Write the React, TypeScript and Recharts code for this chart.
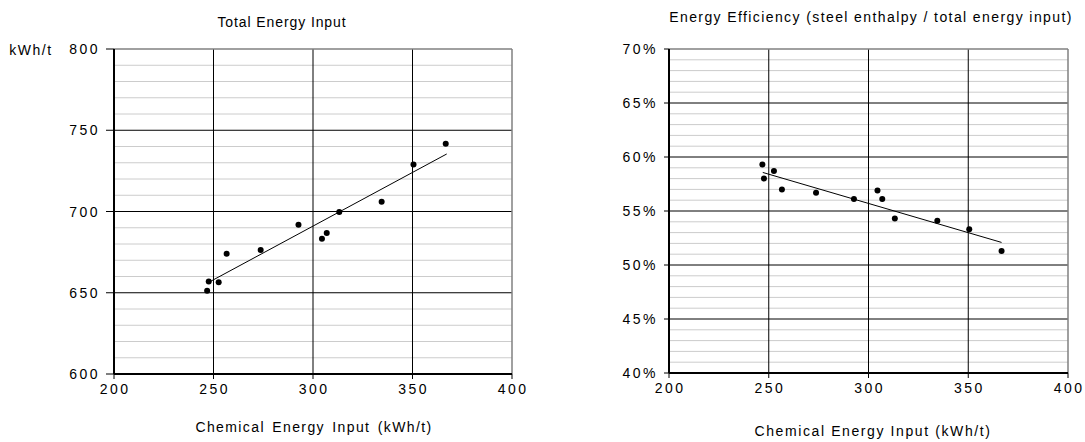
import React from 'react';
import { ScatterChart, Scatter, XAxis, YAxis, CartesianGrid } from 'recharts';

// Chemical energy input per heat (kWh/t), shared by both panels
const chemInput = [246.8, 247.6, 252.6, 256.6, 273.7, 292.7, 304.5, 306.9, 313.2, 334.5, 350.5, 366.7];
// Total energy input (kWh/t)
const totalInput = [651.3, 657, 656.4, 674, 676.3, 691.9, 683.3, 686.8, 699.7, 706, 729, 741.7];
// Energy efficiency (%)
const efficiency = [59.3, 58.0, 58.7, 57.0, 56.7, 56.1, 56.9, 56.1, 54.3, 54.1, 53.3, 51.3];

// Linear trend line end points
const totalTrendX = [248.2, 367.2];
const totalTrendY = [656.8, 735.4];
const effTrendX = [247, 366.7];
const effTrendY = [58.57, 52.09];

const xTicks = [200, 250, 300, 350, 400];
const xMajor = [250, 300, 350];
const totalTicks = [600, 650, 700, 750, 800];
const totalMajor = [650, 700, 750];
const totalMinor = [610, 620, 630, 640, 660, 670, 680, 690, 710, 720, 730, 740, 760, 770, 780, 790];
const effTicks = [40, 45, 50, 55, 60, 65, 70];
const effMajor = [45, 50, 55, 60, 65];
const effMinor = [41, 42, 43, 44, 46, 47, 48, 49, 51, 52, 53, 54, 56, 57, 58, 59, 61, 62, 63, 64, 66, 67, 68, 69];

const FONT = '"Liberation Sans", Arial, sans-serif';

const totalPoints = chemInput.map((x, i) => ({ x, y: totalInput[i] }));
const effPoints = chemInput.map((x, i) => ({ x, y: efficiency[i] }));
const totalTrend = totalTrendX.map((x, i) => ({ x, y: totalTrendY[i] }));
const effTrend = effTrendX.map((x, i) => ({ x, y: effTrendY[i] }));

const Dot = (p: any) => <circle cx={p.cx} cy={p.cy} r={3} fill="#000" />;
const NoDot = () => <g />;

// Tick labels drawn as plain SVG text so the letter spacing is applied reliably
const XTick = (p: any) => (
  <text
    x={p.x + 1.2}
    y={p.y + 6}
    textAnchor="middle"
    fontSize={14}
    fontFamily={FONT}
    fill="#000"
    style={{ letterSpacing: '2.5px' }}
  >
    {p.payload.value}
  </text>
);

const makeYTick = (suffix: string) => (p: any) => (
  <text
    x={p.x + 1}
    y={p.y + 5}
    textAnchor="end"
    fontSize={14}
    fontFamily={FONT}
    fill="#000"
    style={{ letterSpacing: '2.5px' }}
  >
    {`${p.payload.value}${suffix}`}
  </text>
);
const TotalYTick = makeYTick('');
const EffYTick = makeYTick('%');

const textBox = (x: number, y: number, extra: React.CSSProperties = {}): React.CSSProperties => ({
  position: 'absolute',
  left: x,
  top: y,
  transform: 'translate(-50%, -50%)',
  whiteSpace: 'nowrap',
  color: '#000',
  fontFamily: FONT,
  ...extra,
});

export default function App() {
  return (
    <div style={{ position: 'absolute', left: 0, top: 0, width: 1085, height: 442, background: '#fff' }}>
      {/* Total energy input panel */}
      <div style={{ position: 'absolute', left: 0, top: 0 }}>
        <ScatterChart width={540} height={442} margin={{ top: 49, right: 28, bottom: 38, left: 0 }}>
          <CartesianGrid horizontalValues={totalMinor} vertical={false} stroke="#cccccc" strokeWidth={1} />
          <CartesianGrid horizontalValues={totalMajor} verticalValues={xMajor} stroke="#000" strokeWidth={1} />
          <CartesianGrid horizontalValues={[800]} verticalValues={[400]} stroke="#808080" strokeWidth={1.5} />
          <XAxis
            type="number"
            dataKey="x"
            domain={[200, 400]}
            ticks={xTicks}
            interval={0}
            height={30}
            axisLine={{ stroke: '#000', strokeWidth: 2 }}
            tickLine={{ stroke: '#000' }}
            tickSize={5}
            tickMargin={9}
            tick={<XTick />}
          />
          <YAxis
            type="number"
            dataKey="y"
            domain={[600, 800]}
            ticks={totalTicks}
            interval={0}
            width={114}
            axisLine={{ stroke: '#000', strokeWidth: 2 }}
            tickLine={{ stroke: '#000' }}
            tickSize={8}
            tickMargin={7}
            tick={<TotalYTick />}
          />
          <Scatter data={totalTrend} line={{ stroke: '#000', strokeWidth: 1 }} shape={NoDot} isAnimationActive={false} />
          <Scatter data={totalPoints} shape={Dot} isAnimationActive={false} />
        </ScatterChart>
      </div>

      {/* Energy efficiency panel */}
      <div style={{ position: 'absolute', left: 540, top: 0 }}>
        <ScatterChart width={545} height={442} margin={{ top: 49, right: 17, bottom: 39, left: 0 }}>
          <CartesianGrid horizontalValues={effMinor} vertical={false} stroke="#cccccc" strokeWidth={1} />
          <CartesianGrid horizontalValues={effMajor} verticalValues={xMajor} stroke="#000" strokeWidth={1} />
          <CartesianGrid horizontalValues={[70]} verticalValues={[400]} stroke="#808080" strokeWidth={1.5} />
          <XAxis
            type="number"
            dataKey="x"
            domain={[200, 400]}
            ticks={xTicks}
            interval={0}
            height={30}
            axisLine={{ stroke: '#000', strokeWidth: 2 }}
            tickLine={{ stroke: '#000' }}
            tickSize={5}
            tickMargin={9}
            tick={<XTick />}
          />
          <YAxis
            type="number"
            dataKey="y"
            domain={[40, 70]}
            ticks={effTicks}
            interval={0}
            width={129}
            axisLine={{ stroke: '#000', strokeWidth: 2 }}
            tickLine={{ stroke: '#000' }}
            tickSize={5}
            tickMargin={7}
            tick={<EffYTick />}
          />
          <Scatter data={effTrend} line={{ stroke: '#000', strokeWidth: 1 }} shape={NoDot} isAnimationActive={false} />
          <Scatter data={effPoints} shape={Dot} isAnimationActive={false} />
        </ScatterChart>
      </div>

      {/* Titles and axis captions */}
      <div style={textBox(282, 22, { fontSize: 14, letterSpacing: 0.9 })}>Total Energy Input</div>
      <div style={textBox(871, 17, { fontSize: 14, letterSpacing: 1.4 })}>
        Energy Efficiency (steel enthalpy / total energy input)
      </div>
      <div style={textBox(31, 50, { fontSize: 14, letterSpacing: 1.5 })}>kWh/t</div>
      <div style={textBox(314, 427, { fontSize: 14, letterSpacing: 1.4, wordSpacing: 2 })}>
        Chemical Energy Input (kWh/t)
      </div>
      <div style={textBox(873, 431, { fontSize: 14, letterSpacing: 1.6 })}>Chemical Energy Input (kWh/t)</div>
    </div>
  );
}
